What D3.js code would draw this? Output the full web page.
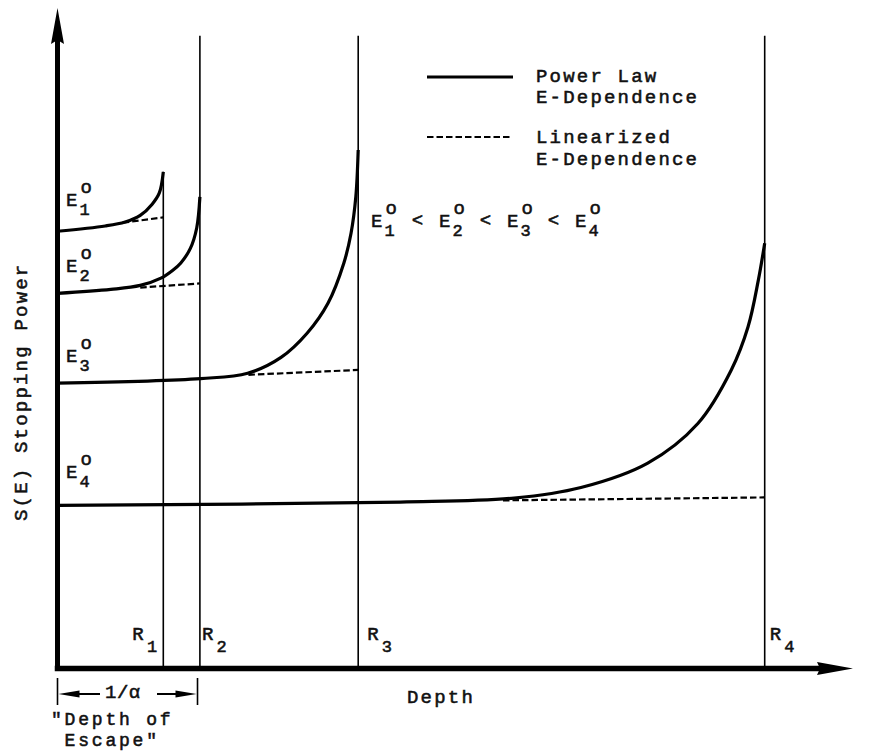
<!DOCTYPE html>
<html>
<head>
<meta charset="utf-8">
<script src="https://cdn.jsdelivr.net/npm/d3@7"></script>
<style>
  body { margin: 0; background: #fff; }
  text { font-family: "Liberation Mono", "DejaVu Sans Mono", monospace; fill: #111; stroke: #111; stroke-width: 0.55px; }
</style>
</head>
<body>
<svg id="chart" width="869" height="754"></svg>
<script>
// Beam index for each incident energy E°
const beams = ["1", "2", "3", "4"];
// Range R of each beam (depth units)
const ranges = [1.33, 1.79, 3.78, 8.89];
// Power-law stopping power S(E) along each track: depth samples ...
const powerDepth = [
  [0, 0.60, 0.85, 1.04, 1.19, 1.28, 1.33],
  [0, 0.67, 1.04, 1.30, 1.45, 1.55, 1.67, 1.75, 1.79],
  [0, 1.80, 2.39, 2.81, 3.14, 3.40, 3.60, 3.69, 3.75, 3.78],
  [0, 4.31, 5.74, 6.58, 7.42, 8.05, 8.47, 8.68, 8.81, 8.89]
];
// ... and the S(E) value at each sample
const powerS = [
  [6.62, 6.70, 6.76, 6.86, 7.03, 7.20, 7.52],
  [5.68, 5.74, 5.80, 5.91, 6.03, 6.14, 6.36, 6.67, 7.14],
  [4.32, 4.39, 4.47, 4.71, 5.08, 5.53, 6.14, 6.59, 7.14, 7.85],
  [2.47, 2.52, 2.58, 2.74, 3.11, 3.71, 4.52, 5.17, 5.88, 6.44]
];
// Linearized E-dependence: S(E) at the range, and depth where it leaves the power-law curve
const linEndS = [6.83, 5.83, 4.52, 2.59];
const linFrom = [0.82, 1.04, 2.40, 5.60];
// Height of the range markers R2..R4, and the escape depth 1/α
const rangeTop = 9.58;
const escapeDepth = 1.76;

const svg = d3.select("#chart");
const FS = 19, LS = 2.2, CELL = FS * 0.6 + LS;

const x = d3.scaleLinear().domain([0, 10]).range([57.5, 853]);
const y = d3.scaleLinear().domain([0, 10]).range([668.5, 8]);

// ---- axes (no ticks, heavy lines with arrowheads) ----
const gx = svg.append("g").attr("transform", `translate(0,${y(0)})`)
  .call(d3.axisBottom(x).tickValues([]).tickSizeOuter(0));
gx.select(".domain").attr("d", `M${x(0)},0H${x(10) - 30}`)
  .attr("stroke", "#000").attr("stroke-width", 5.5).attr("stroke-linecap", "square");
gx.append("path")
  .attr("d", `M${x(10)},0L${x(10) - 36},-6.5L${x(10) - 33},0L${x(10) - 36},6.5Z`)
  .attr("fill", "#000");

const gy = svg.append("g").attr("transform", `translate(${x(0)},0)`)
  .call(d3.axisLeft(y).tickValues([]).tickSizeOuter(0));
gy.select(".domain").attr("d", `M0,${y(0)}V${y(10) + 28}`)
  .attr("stroke", "#000").attr("stroke-width", 5).attr("stroke-linecap", "square");
gy.append("path")
  .attr("d", `M0,${y(10)}L-6.5,${y(10) + 36}L0,${y(10) + 32}L6.5,${y(10) + 36}Z`)
  .attr("fill", "#000");

// ---- range markers ----
svg.append("g").selectAll("line").data(ranges).join("line")
  .attr("x1", d => x(d)).attr("x2", d => x(d))
  .attr("y1", y(0))
  .attr("y2", (d, i) => i === 0 ? y(powerS[0][powerS[0].length - 1]) : y(rangeTop))
  .attr("stroke", "#000").attr("stroke-width", 1.6);

// ---- power-law curves ----
const line = d3.line().x(d => x(d[0])).y(d => y(d[1])).curve(d3.curveCatmullRom.alpha(0.5));
svg.append("g").selectAll("path").data(beams.map((b, i) => d3.zip(powerDepth[i], powerS[i])))
  .join("path")
  .attr("d", line)
  .attr("fill", "none").attr("stroke", "#000").attr("stroke-width", 3.2);

// ---- linearized dashed lines ----
const lin = beams.map((b, i) => {
  const s0 = powerS[i][0];
  const sFrom = s0 + (linEndS[i] - s0) * linFrom[i] / ranges[i];
  return [[linFrom[i], sFrom], [ranges[i], linEndS[i]]];
});
svg.append("g").selectAll("path").data(lin).join("path")
  .attr("d", d3.line().x(d => x(d[0])).y(d => y(d[1])))
  .attr("fill", "none").attr("stroke", "#000").attr("stroke-width", 2.2)
  .attr("stroke-dasharray", "6.5,3");

// ---- E° label helper: E with superscript o and subscript index ----
function energyLabel(g, px, py, idx) {
  g.append("text").attr("x", px).attr("y", py).attr("font-size", FS).text("E");
  g.append("text").attr("x", px + CELL + 1).attr("y", py - 13).attr("font-size", 19).text("o");
  g.append("text").attr("x", px + CELL).attr("y", py + 9).attr("font-size", 17).text(idx);
}

// labels beside the curve starts
const labelLift = [25, 21, 21, 27];
const lg = svg.append("g");
beams.forEach((b, i) => energyLabel(lg, 66, y(powerS[i][0]) - labelLift[i], b));

// ordering of the energies
const og = svg.append("g");
beams.forEach((b, i) => {
  const px = 371 + i * 5 * CELL;
  energyLabel(og, px, 227, b);
  if (i < beams.length - 1)
    og.append("text").attr("x", px + 3 * CELL).attr("y", 226).attr("font-size", FS).text("<");
});

// ---- R labels ----
const rLabelDx = [-31, 2, 9, 5];
const rg = svg.append("g");
ranges.forEach((r, i) => {
  const px = x(r) + rLabelDx[i];
  rg.append("text").attr("x", px).attr("y", 640).attr("font-size", FS).text("R");
  rg.append("text").attr("x", px + CELL + 1).attr("y", 652).attr("font-size", 17).text(beams[i]);
});

// ---- axis titles ----
svg.append("text").attr("x", 407).attr("y", 703).attr("font-size", FS)
  .attr("letter-spacing", LS).text("Depth");
svg.append("text").attr("transform", "translate(27,521) rotate(-90)")
  .attr("font-size", FS).attr("letter-spacing", LS).text("S(E) Stopping Power");

// ---- escape depth bracket ----
const bg = svg.append("g").attr("stroke", "#000");
[0, escapeDepth].forEach(d => {
  bg.append("line").attr("x1", x(d)).attr("x2", x(d)).attr("y1", 678).attr("y2", 705)
    .attr("stroke-width", 1.6);
});
bg.append("line").attr("x1", x(0) + 8).attr("x2", 100).attr("y1", 694).attr("y2", 694).attr("stroke-width", 2.2);
bg.append("line").attr("x1", 157).attr("x2", x(escapeDepth) - 8).attr("y1", 694).attr("y2", 694).attr("stroke-width", 2.2);
bg.append("path").attr("stroke", "none").attr("fill", "#000")
  .attr("d", `M${x(0) + 1},694L${x(0) + 22},690.5L${x(0) + 22},697.5Z`);
bg.append("path").attr("stroke", "none").attr("fill", "#000")
  .attr("d", `M${x(escapeDepth) - 1},694L${x(escapeDepth) - 22},690.5L${x(escapeDepth) - 22},697.5Z`);
svg.append("text").attr("x", 105).attr("y", 698).attr("font-size", FS).attr("letter-spacing", 0.5).text("1/α");
const FS2 = 18, LS2 = CELL - FS2 * 0.6;
svg.append("text").attr("x", 51).attr("y", 725).attr("font-size", FS2).attr("letter-spacing", LS2).text("\"Depth of");
svg.append("text").attr("x", 51 + CELL).attr("y", 746).attr("font-size", FS2).attr("letter-spacing", LS2).text("Escape\"");

// ---- legend ----
const leg = svg.append("g");
leg.append("line").attr("x1", 427).attr("x2", 513).attr("y1", 77).attr("y2", 77)
  .attr("stroke", "#000").attr("stroke-width", 3.2);
leg.append("line").attr("x1", 427).attr("x2", 511).attr("y1", 137).attr("y2", 137)
  .attr("stroke", "#000").attr("stroke-width", 2.2).attr("stroke-dasharray", "6.5,3");
[["Power Law", 82], ["E-Dependence", 103], ["Linearized", 143], ["E-Dependence", 165]].forEach(([t, py]) => {
  leg.append("text").attr("x", 536).attr("y", py).attr("font-size", FS).attr("letter-spacing", LS).text(t);
});
</script>
</body>
</html>
